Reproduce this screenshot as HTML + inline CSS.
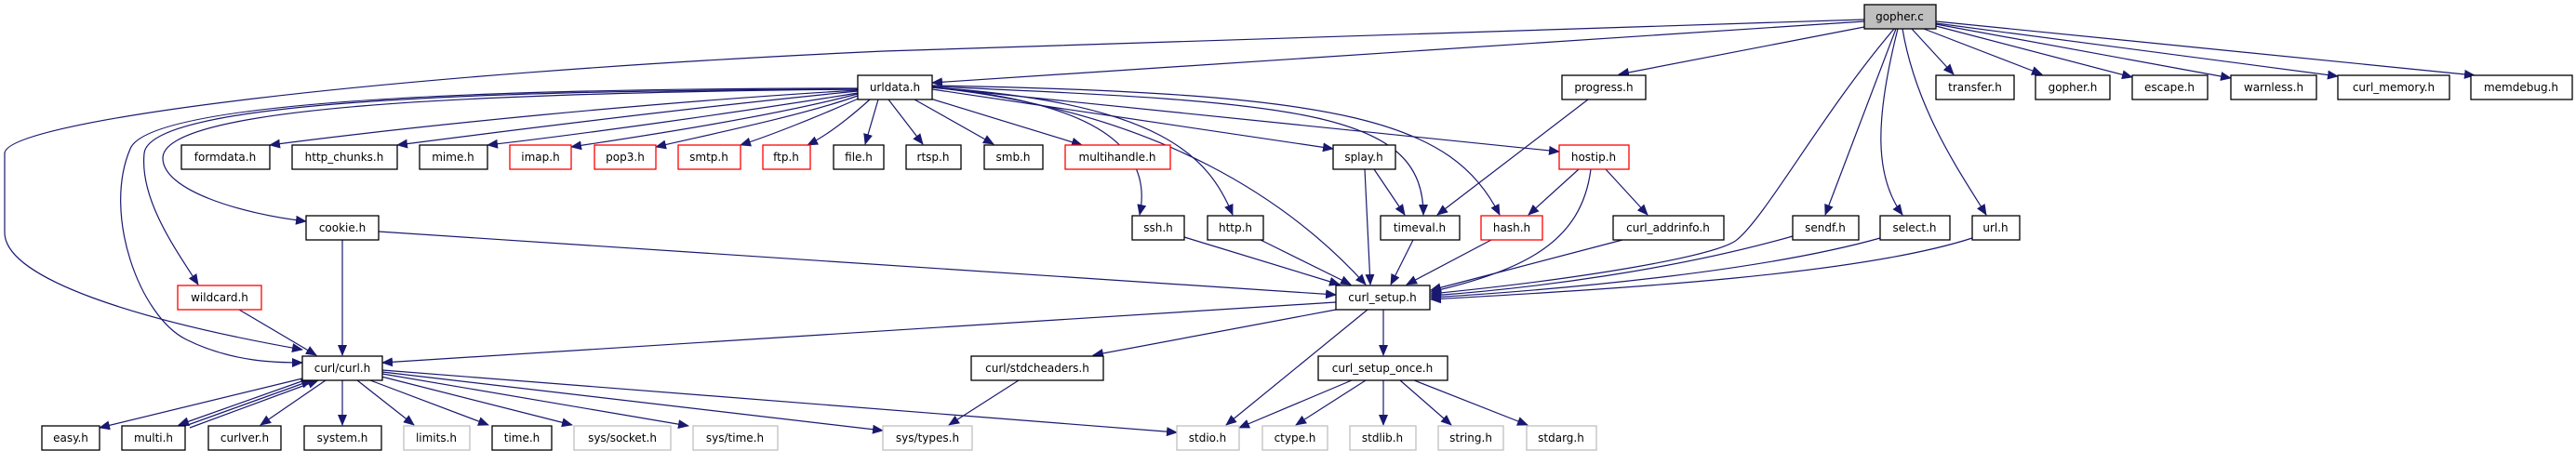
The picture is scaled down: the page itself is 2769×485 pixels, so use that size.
<!DOCTYPE html>
<html><head><meta charset="utf-8"><style>
html,body{margin:0;padding:0;background:#fff;}
svg{display:block;}
text{font-family:"DejaVu Sans","Liberation Sans",sans-serif;font-size:12px;fill:#000;text-anchor:middle;}
.e{fill:none;stroke:#191970;stroke-width:1.2;marker-end:url(#a);}
.b{fill:#fff;stroke:#000;stroke-width:1.3;}
.g{fill:#fff;stroke:#bfbfbf;stroke-width:1.3;}
.r{fill:#fff;stroke:#ff0000;stroke-width:1.3;}
</style></head><body>
<svg width="2769" height="485" viewBox="0 0 2769 485" xmlns="http://www.w3.org/2000/svg">
<defs><marker id="a" markerUnits="userSpaceOnUse" markerWidth="12" markerHeight="10" refX="11" refY="5" orient="auto"><path d="M0,0 L12,5 L0,10 z" fill="#191970"/></marker></defs>
<!-- edges -->
<g>
<path class="e" d="M2004,21 L950,55 C400,80 5,130 5,165 L5,250 C5,300 150,345 325,376"/>
<path class="e" d="M2004,23 L1002,89"/>
<path class="e" d="M2004,29 L1740,80"/>
<path class="e" d="M2036,31 C1960,120 1900,230 1868,257 C1850,275 1700,300 1538,316"/>
<path class="e" d="M2055,31 L2100,80"/>
<path class="e" d="M2068,31 L2195,80"/>
<path class="e" d="M2081,28 L2292,83"/>
<path class="e" d="M2081,26 L2398,84"/>
<path class="e" d="M2081,25 L2513,82"/>
<path class="e" d="M2081,23 L2660,81"/>
<path class="e" d="M2038,31 L1962,231"/>
<path class="e" d="M2040,31 C2015,130 2015,190 2045,231"/>
<path class="e" d="M2045,31 C2060,120 2110,190 2135,231"/>
<path class="e" d="M1927,254 C1800,290 1650,310 1538,318"/>
<path class="e" d="M2021,256 C1900,290 1700,310 1538,320"/>
<path class="e" d="M2120,256 C2000,295 1750,310 1538,322"/>
<!-- urldata -->
<path class="e" d="M922,97 C700,110 450,135 290,156"/>
<path class="e" d="M922,98 C750,115 550,140 427,156"/>
<path class="e" d="M922,100 C800,120 620,145 524,156"/>
<path class="e" d="M922,101 C830,125 700,145 614,158"/>
<path class="e" d="M922,103 C860,125 760,145 705,158"/>
<path class="e" d="M925,105 C880,125 830,145 796,156"/>
<path class="e" d="M935,107 C915,125 890,145 868,156"/>
<path class="e" d="M944,107 L930,155"/>
<path class="e" d="M955,107 L992,155"/>
<path class="e" d="M983,107 L1068,155"/>
<path class="e" d="M1000,106 L1163,156"/>
<path class="e" d="M1002,96 L1433,160"/>
<path class="e" d="M1002,94 L1676,163"/>
<path class="e" d="M1002,94 C1180,110 1240,160 1225,231"/>
<path class="e" d="M1002,94 C1250,110 1300,170 1325,231"/>
<path class="e" d="M1002,94 C1250,120 1390,220 1468,306"/>
<path class="e" d="M1002,93 C1400,110 1530,120 1530,231"/>
<path class="e" d="M1002,92 C1450,100 1560,130 1612,231"/>
<path class="e" d="M922,96 C500,100 175,115 175,170 C175,205 260,230 329,238"/>
<path class="e" d="M922,96 C500,97 160,110 155,165 C150,215 190,270 213,306"/>
<path class="e" d="M922,95 C500,95 160,110 140,160 C110,230 150,340 200,365 C250,390 300,390 325,390"/>
<!-- middle -->
<path class="e" d="M407,249 L1436,317"/>
<path class="e" d="M368,258 L368,382"/>
<path class="e" d="M257,333 L340,382"/>
<path class="e" d="M1436,325 L411,390"/>
<path class="e" d="M1436,333 L1175,382"/>
<path class="e" d="M1487,333 L1487,382"/>
<path class="e" d="M1470,333 L1318,457"/>
<path class="e" d="M1467,182 L1473,306"/>
<path class="e" d="M1477,182 L1510,231"/>
<path class="e" d="M1707,107 L1545,231"/>
<path class="e" d="M1697,182 L1643,231"/>
<path class="e" d="M1726,182 L1771,231"/>
<path class="e" d="M1710,182 C1700,260 1640,290 1538,314"/>
<path class="e" d="M1273,255 L1440,306"/>
<path class="e" d="M1355,258 L1452,306"/>
<path class="e" d="M1519,258 L1495,306"/>
<path class="e" d="M1603,258 L1512,306"/>
<path class="e" d="M1744,258 L1538,312"/>
<path class="e" d="M1095,409 L1020,457"/>
<path class="e" d="M1453,409 L1332,460"/>
<path class="e" d="M1468,409 L1393,457"/>
<path class="e" d="M1487,409 L1487,457"/>
<path class="e" d="M1505,409 L1560,457"/>
<path class="e" d="M1520,409 L1642,457"/>
<!-- curl.h -->
<path class="e" d="M325,407 L107,460"/>
<path class="e" d="M330,408 L192,457"/>
<path class="e" d="M199,458 L335,409"/>
<path class="e" d="M204,460 L342,409"/>
<path class="e" d="M350,409 L280,457"/>
<path class="e" d="M368,409 L368,457"/>
<path class="e" d="M384,409 L445,457"/>
<path class="e" d="M398,409 L525,457"/>
<path class="e" d="M410,405 L615,457"/>
<path class="e" d="M411,402 L740,458"/>
<path class="e" d="M411,400 L949,463"/>
<path class="e" d="M411,398 L1265,465"/>
</g>
<!-- nodes -->
<g>
<rect x="2004" y="5" width="77" height="26" fill="#bfbfbf" stroke="#000" stroke-width="1.3"/><text x="2042" y="22">gopher.c</text>
<rect class="b" x="922" y="81" width="80" height="26"/><text x="962" y="98">urldata.h</text>
<rect class="b" x="1679" y="81" width="90" height="26"/><text x="1724" y="98">progress.h</text>
<rect class="b" x="2081" y="81" width="84" height="26"/><text x="2123" y="98">transfer.h</text>
<rect class="b" x="2188" y="81" width="80" height="26"/><text x="2228" y="98">gopher.h</text>
<rect class="b" x="2292" y="81" width="81" height="26"/><text x="2332" y="98">escape.h</text>
<rect class="b" x="2398" y="81" width="92" height="26"/><text x="2444" y="98">warnless.h</text>
<rect class="b" x="2513" y="81" width="120" height="26"/><text x="2573" y="98">curl_memory.h</text>
<rect class="b" x="2656" y="81" width="109" height="26"/><text x="2710" y="98">memdebug.h</text>

<rect class="b" x="195" y="156" width="95" height="26"/><text x="242" y="173">formdata.h</text>
<rect class="b" x="314" y="156" width="113" height="26"/><text x="370" y="173">http_chunks.h</text>
<rect class="b" x="451" y="156" width="73" height="26"/><text x="487" y="173">mime.h</text>
<rect class="r" x="548" y="156" width="66" height="26"/><text x="581" y="173">imap.h</text>
<rect class="r" x="639" y="156" width="66" height="26"/><text x="672" y="173">pop3.h</text>
<rect class="r" x="729" y="156" width="67" height="26"/><text x="762" y="173">smtp.h</text>
<rect class="r" x="820" y="156" width="51" height="26"/><text x="845" y="173">ftp.h</text>
<rect class="b" x="896" y="156" width="54" height="26"/><text x="923" y="173">file.h</text>
<rect class="b" x="974" y="156" width="59" height="26"/><text x="1003" y="173">rtsp.h</text>
<rect class="b" x="1058" y="156" width="63" height="26"/><text x="1089" y="173">smb.h</text>
<rect class="r" x="1145" y="156" width="113" height="26"/><text x="1201" y="173">multihandle.h</text>
<rect class="b" x="1433" y="156" width="67" height="26"/><text x="1466" y="173">splay.h</text>
<rect class="r" x="1676" y="156" width="75" height="26"/><text x="1713" y="173">hostip.h</text>

<rect class="b" x="329" y="232" width="78" height="26"/><text x="368" y="249">cookie.h</text>
<rect class="b" x="1217" y="232" width="56" height="26"/><text x="1245" y="249">ssh.h</text>
<rect class="b" x="1298" y="232" width="60" height="26"/><text x="1328" y="249">http.h</text>
<rect class="b" x="1484" y="232" width="85" height="26"/><text x="1526" y="249">timeval.h</text>
<rect class="r" x="1592" y="232" width="66" height="26"/><text x="1625" y="249">hash.h</text>
<rect class="b" x="1734" y="232" width="119" height="26"/><text x="1793" y="249">curl_addrinfo.h</text>
<rect class="b" x="1927" y="232" width="71" height="26"/><text x="1962" y="249">sendf.h</text>
<rect class="b" x="2021" y="232" width="75" height="26"/><text x="2058" y="249">select.h</text>
<rect class="b" x="2120" y="232" width="51" height="26"/><text x="2145" y="249">url.h</text>

<rect class="r" x="191" y="307" width="90" height="26"/><text x="236" y="324">wildcard.h</text>
<rect class="b" x="1436" y="307" width="101" height="26"/><text x="1486" y="324">curl_setup.h</text>

<rect class="b" x="325" y="383" width="86" height="26"/><text x="368" y="400">curl/curl.h</text>
<rect class="b" x="1044" y="383" width="142" height="26"/><text x="1115" y="400">curl/stdcheaders.h</text>
<rect class="b" x="1417" y="383" width="139" height="26"/><text x="1486" y="400">curl_setup_once.h</text>

<rect class="b" x="45" y="458" width="62" height="26"/><text x="76" y="475">easy.h</text>
<rect class="b" x="131" y="458" width="68" height="26"/><text x="165" y="475">multi.h</text>
<rect class="b" x="224" y="458" width="78" height="26"/><text x="263" y="475">curlver.h</text>
<rect class="b" x="327" y="458" width="83" height="26"/><text x="368" y="475">system.h</text>
<rect class="g" x="434" y="458" width="71" height="26"/><text x="469" y="475">limits.h</text>
<rect class="b" x="529" y="458" width="64" height="26"/><text x="561" y="475">time.h</text>
<rect class="g" x="617" y="458" width="104" height="26"/><text x="669" y="475">sys/socket.h</text>
<rect class="g" x="745" y="458" width="91" height="26"/><text x="790" y="475">sys/time.h</text>
<rect class="g" x="949" y="458" width="96" height="26"/><text x="997" y="475">sys/types.h</text>
<rect class="g" x="1265" y="458" width="67" height="26"/><text x="1298" y="475">stdio.h</text>
<rect class="g" x="1357" y="458" width="70" height="26"/><text x="1392" y="475">ctype.h</text>
<rect class="g" x="1451" y="458" width="71" height="26"/><text x="1486" y="475">stdlib.h</text>
<rect class="g" x="1546" y="458" width="70" height="26"/><text x="1581" y="475">string.h</text>
<rect class="g" x="1641" y="458" width="75" height="26"/><text x="1678" y="475">stdarg.h</text>
</g>
</svg>
</body></html>
